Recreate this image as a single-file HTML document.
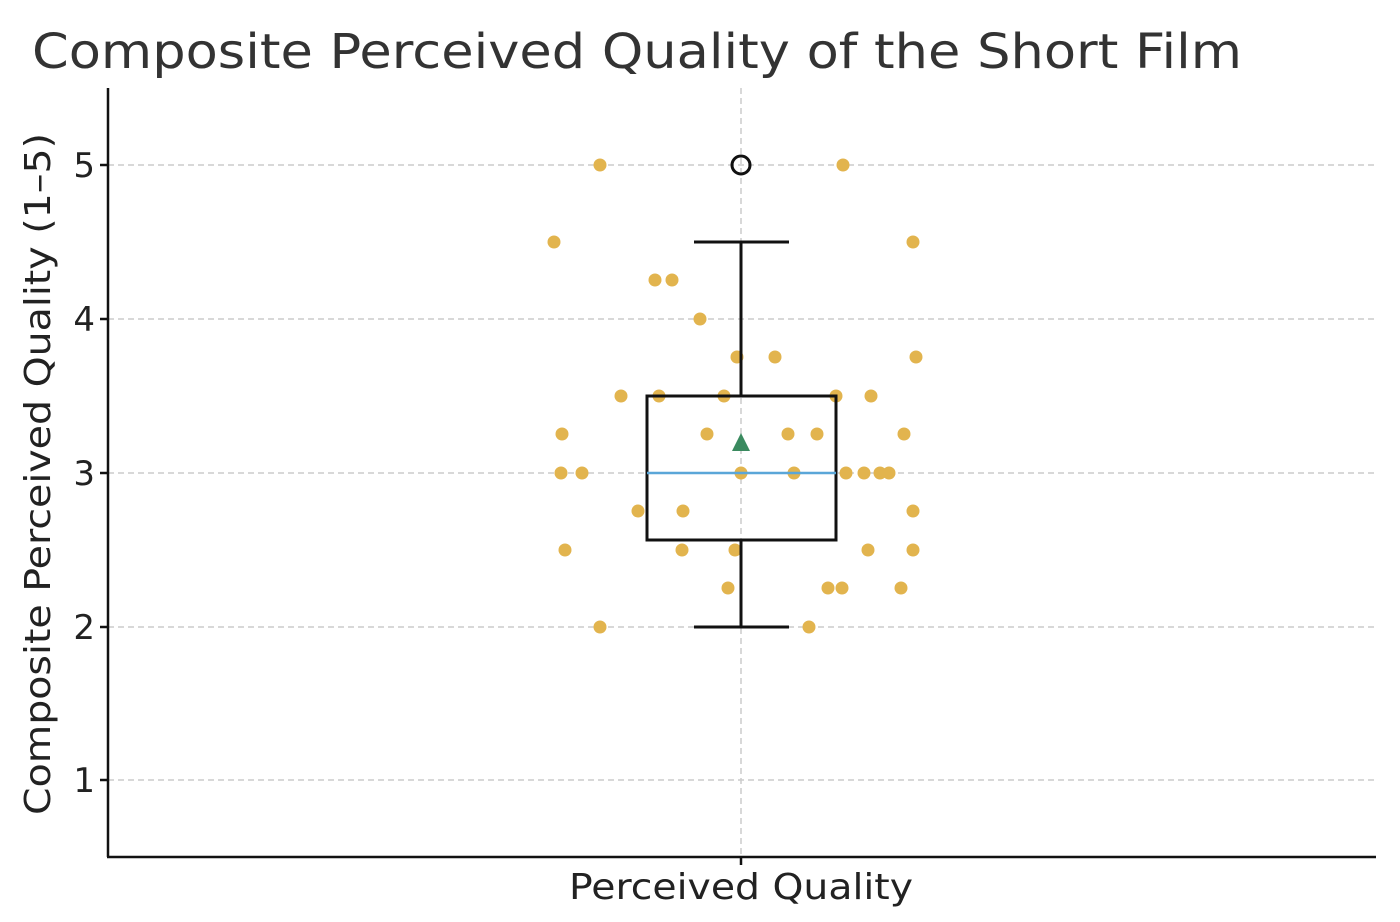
<!DOCTYPE html>
<html><head><meta charset="utf-8"><style>body{margin:0;background:#fff}svg{display:block}</style></head><body>
<svg width="1400" height="922" xmlns="http://www.w3.org/2000/svg" font-family="DejaVu Sans, Liberation Sans, sans-serif">
<rect width="1400" height="922" fill="#fff"/>
<text x="32" y="68" font-size="48" fill="#333" textLength="1210" lengthAdjust="spacingAndGlyphs">Composite Perceived Quality of the Short Film</text>
<g stroke="#ccc" stroke-width="1.5" stroke-dasharray="6,4">
<line x1="108" x2="1375" y1="165" y2="165"/><line x1="108" x2="1375" y1="319" y2="319"/><line x1="108" x2="1375" y1="473" y2="473"/><line x1="108" x2="1375" y1="627" y2="627"/><line x1="108" x2="1375" y1="780" y2="780"/>
<line x1="741" x2="741" y1="88" y2="857"/>
</g>
<g fill="#e2b44e">
<circle cx="600" cy="165" r="6.5"/><circle cx="843" cy="165" r="6.5"/>
<circle cx="554" cy="242" r="6.5"/><circle cx="913" cy="242" r="6.5"/>
<circle cx="655" cy="280" r="6.5"/><circle cx="672" cy="280" r="6.5"/>
<circle cx="700" cy="319" r="6.5"/>
<circle cx="737" cy="357" r="6.5"/><circle cx="775" cy="357" r="6.5"/><circle cx="916" cy="357" r="6.5"/>
<circle cx="621" cy="396" r="6.5"/><circle cx="659" cy="396" r="6.5"/><circle cx="724" cy="396" r="6.5"/><circle cx="836" cy="396" r="6.5"/><circle cx="871" cy="396" r="6.5"/>
<circle cx="562" cy="434" r="6.5"/><circle cx="707" cy="434" r="6.5"/><circle cx="788" cy="434" r="6.5"/><circle cx="817" cy="434" r="6.5"/><circle cx="904" cy="434" r="6.5"/>
<circle cx="561" cy="473" r="6.5"/><circle cx="582" cy="473" r="6.5"/><circle cx="741" cy="473" r="6.5"/><circle cx="794" cy="473" r="6.5"/><circle cx="846" cy="473" r="6.5"/><circle cx="864" cy="473" r="6.5"/><circle cx="880" cy="473" r="6.5"/><circle cx="889" cy="473" r="6.5"/>
<circle cx="638" cy="511" r="6.5"/><circle cx="683" cy="511" r="6.5"/><circle cx="913" cy="511" r="6.5"/>
<circle cx="565" cy="550" r="6.5"/><circle cx="682" cy="550" r="6.5"/><circle cx="735" cy="550" r="6.5"/><circle cx="868" cy="550" r="6.5"/><circle cx="913" cy="550" r="6.5"/>
<circle cx="728" cy="588" r="6.5"/><circle cx="828" cy="588" r="6.5"/><circle cx="842" cy="588" r="6.5"/><circle cx="901" cy="588" r="6.5"/>
<circle cx="600" cy="627" r="6.5"/><circle cx="809" cy="627" r="6.5"/>
</g>
<g stroke="#111" stroke-width="3" fill="none">
<rect x="647" y="396" width="189" height="144"/>
<line x1="741" x2="741" y1="396" y2="242"/><line x1="741" x2="741" y1="540" y2="627"/>
<line x1="694" x2="789" y1="242" y2="242"/><line x1="694" x2="789" y1="627" y2="627"/>
<circle cx="741" cy="165" r="9" stroke-width="3"/>
</g>
<line x1="647" x2="836" y1="473" y2="473" stroke="#5aa6d8" stroke-width="2.5"/>
<polygon points="741,433 732,451 750,451" fill="#3a8a5f"/>
<g stroke="#111" stroke-width="2.5">
<line x1="108" x2="108" y1="88" y2="857"/><line x1="107" x2="1376" y1="857" y2="857"/>
<line x1="100" x2="108" y1="165" y2="165"/><line x1="100" x2="108" y1="319" y2="319"/><line x1="100" x2="108" y1="473" y2="473"/><line x1="100" x2="108" y1="627" y2="627"/><line x1="100" x2="108" y1="780" y2="780"/>
<line x1="741" x2="741" y1="857" y2="865"/>
</g>
<g font-size="34" fill="#222" text-anchor="end">
<text x="95" y="177">5</text><text x="95" y="331">4</text><text x="95" y="485">3</text><text x="95" y="639">2</text><text x="95" y="792">1</text>
</g>
<text x="741" y="899" font-size="36" fill="#222" text-anchor="middle" textLength="344" lengthAdjust="spacingAndGlyphs">Perceived Quality</text>
<text transform="translate(50,474) rotate(-90)" font-size="36" fill="#222" text-anchor="middle" textLength="682" lengthAdjust="spacingAndGlyphs">Composite Perceived Quality (1–5)</text>
</svg>
</body></html>
